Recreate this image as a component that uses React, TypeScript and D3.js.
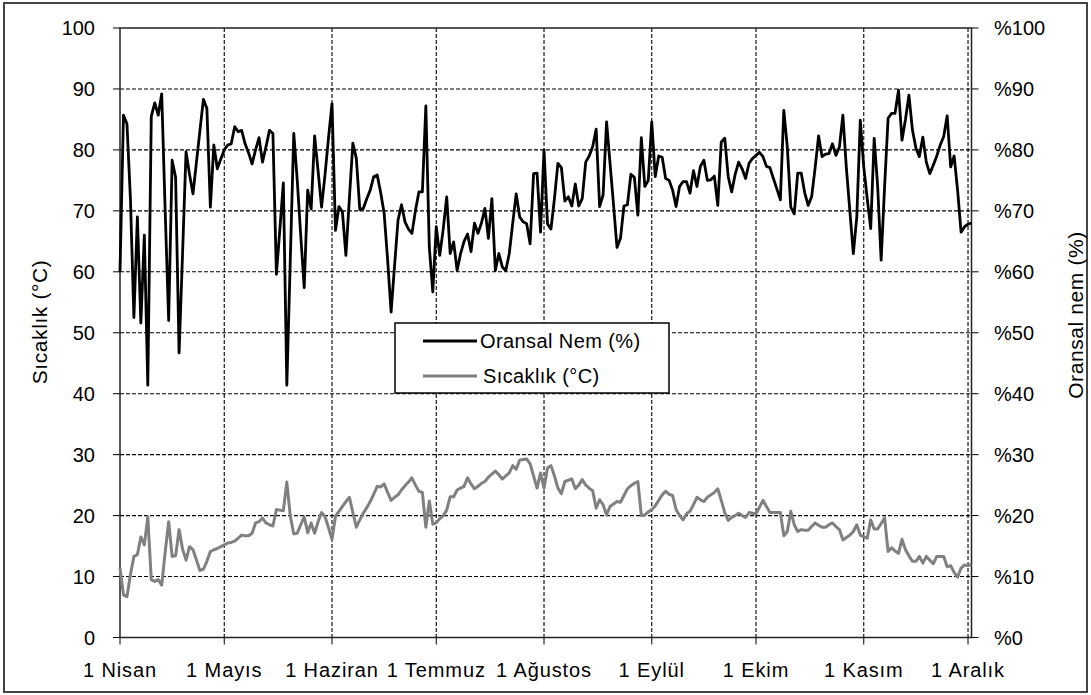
import React from "react";
import * as d3 from "d3";

// Daily relative humidity (%) from 1 Nisan to 2 Aralık
const humidity: number[] = [
  60, 85.7, 84.3, 72, 52.5, 69, 51.6, 66, 41.4, 85.5,
  87.7, 85.7, 89.2, 70, 52, 78.3, 75.5, 46.7, 63, 79.7,
  76, 72.8, 78, 83.2, 88.3, 86.8, 70.6, 80.8, 76.9, 78.5,
  80, 80.8, 81, 83.8, 83, 83.2, 81, 79.5, 77.7, 80,
  82, 78, 80.5, 83.2, 82.7, 59.6, 67, 74.6, 41.4, 62,
  82.7, 75, 66, 57.4, 73.4, 70.3, 82.3, 76.5, 70.6, 76,
  82, 87.6, 66.8, 70.7, 69.8, 62.7, 72, 81.1, 78.6, 70.2,
  70.4, 72, 73.4, 75.6, 75.9, 73, 69.6, 62, 53.4, 61,
  68.5, 71, 68.2, 67, 66.3, 70, 73.1, 73.1, 87.2, 64,
  56.7, 67.4, 62.7, 67, 72.3, 63, 64.9, 60.2, 63, 65,
  66.2, 63.3, 68, 66.3, 68, 70.4, 65.5, 72, 60.2, 63,
  60.8, 60.2, 63, 68, 72.8, 69, 68.2, 67.9, 64.6, 76.1,
  76.2, 66.5, 80, 67.9, 67, 72, 77.8, 77.1, 71.6, 72.3,
  70.8, 74.4, 70.8, 72, 78, 79, 80.5, 83.4, 70.7, 72.6,
  84.6, 77.8, 71, 64, 65.5, 70.8, 71, 76, 75.5, 69.3,
  82, 74, 75, 84.6, 75.6, 79, 78.8, 75.3, 75, 73.4,
  70.7, 74, 74.8, 74.8, 72.9, 76.6, 74, 77.3, 78.3, 75,
  75.1, 75.7, 70.9, 81.3, 81.9, 75.6, 73.1, 76, 78, 76.9,
  75.3, 77.8, 78.6, 79.1, 79.6, 78.9, 77.3, 77.1, 75.3, 73.6,
  71.8, 86.5, 80.5, 70.6, 69.5, 76.2, 76.2, 73, 70.9, 72.3,
  77, 82.3, 78.9, 79.3, 79.4, 81, 79.1, 80.5, 85.7, 77,
  70, 63, 69, 84.9, 77.2, 72, 67.1, 81.9, 74, 61.9,
  74, 85.2, 86, 86, 89.8, 81.6, 85, 89, 83.3, 80.3,
  78.9, 82.1, 78, 76.1, 77.5, 79, 80.8, 82.2, 85.6, 77.2,
  79, 73.4, 66.5, 67.4, 67.8, 68,
];

// Daily temperature (°C) over the same days
const temperature: number[] = [
  11.4, 7, 6.7, 10.3, 13.3, 13.6, 16.5, 15.2, 19.8, 9.5,
  9.2, 9.5, 8.6, 14, 19, 13.3, 13.4, 17.7, 14.5, 12.7,
  14.9, 14.4, 12.7, 11, 11.2, 12.5, 14.1, 14.4, 14.6, 14.9,
  15.2, 15.5, 15.6, 15.8, 16.3, 16.8, 16.7, 16.7, 17.1, 18.8,
  19, 19.6, 18.8, 18.5, 18.3, 21, 20.9, 20.8, 25.5, 19.9,
  17, 17.1, 18.5, 19.8, 17.2, 18.8, 17.1, 19, 20.5, 19.8,
  18, 16.1, 19.9, 20.7, 21.5, 22.3, 23, 20.5, 18.1, 19.3,
  20.4, 21.3, 22.3, 23.5, 24.8, 24.7, 25.2, 23.8, 22.5, 23,
  23.4, 24.2, 24.9, 25.5, 26.2, 25, 24, 23.8, 18.1, 22.4,
  18.6, 18.8, 19.5, 20, 20.9, 23.1, 23.1, 24.2, 24.5, 24.8,
  26.2, 25.2, 24.4, 24.8, 25.3, 25.6, 26.3, 26.8, 27.3, 26.7,
  26, 26.5, 27, 28.2, 27.6, 29.1, 29.2, 29.3, 28.5, 26.5,
  24.5, 27, 24.5, 27.8, 28.2, 26.5, 24.5, 23.6, 25.6, 25.8,
  26, 24.4, 25, 25.9, 25, 24.5, 24.1, 21.2, 22.6, 21.8,
  20.1, 21.5, 21.9, 22.3, 22.2, 23.3, 24.4, 24.9, 25.3, 25.6,
  20, 20.1, 20.6, 21, 21.6, 22.5, 23.4, 24, 23.5, 23.3,
  21, 20, 19.3, 20.3, 20.7, 21.8, 23, 22.6, 22.3, 23,
  23.4, 23.8, 24.4, 22.5, 20.5, 19.2, 19.7, 20, 20.4, 20,
  19.7, 20.5, 20.4, 20.3, 21.4, 22.5, 21.5, 20.5, 20.5, 20.5,
  20.5, 16.7, 17.4, 20.7, 18.5, 17.4, 17.7, 17.6, 17.6, 18.2,
  18.8, 18.4, 18.1, 18.1, 18.5, 18.8, 18.2, 17.7, 16, 16.4,
  16.8, 17.4, 18.5, 16.8, 16.5, 16.3, 19.3, 17.8, 17.8, 18.7,
  19.6, 14.1, 14.7, 14.2, 13.8, 16.1, 14.4, 13.4, 12.5, 12.5,
  13.3, 12.2, 13.3, 12.7, 12.1, 13.3, 13.3, 13.3, 11.6, 11.8,
  10.7, 9.9, 11.4, 11.9, 11.8, 12,
];

const monthLabels: string[] = [
  "1 Nisan", "1 Mayıs", "1 Haziran", "1 Temmuz", "1 Ağustos",
  "1 Eylül", "1 Ekim", "1 Kasım", "1 Aralık",
];
const yTicks: number[] = [0, 10, 20, 30, 40, 50, 60, 70, 80, 90, 100];
const seriesNames: string[] = ["Oransal Nem (%)", "Sıcaklık (°C)"];
const leftTitle = "Sıcaklık (°C)";
const rightTitle = "Oransal nem (%)";

const W = 1091;
const H = 695;
const FONT = "'Liberation Sans', Arial, sans-serif";

export default function App() {
  const start = new Date(2009, 3, 1);
  const end = d3.timeDay.offset(start, humidity.length - 1);
  const L = 120, R = 971.5, T = 28, B = 637.5;
  const x = d3.scaleTime().domain([start, end]).range([L, R]);
  const y = d3.scaleLinear().domain([0, 100]).range([B, T]);

  const monthTicks = d3.timeMonth.range(start, d3.timeDay.offset(end, 1));

  const line = d3
    .line<number>()
    .x((_, i) => x(d3.timeDay.offset(start, i)))
    .y((v) => y(v));

  const humPath = line(humidity) || "";
  const tempPath = line(temperature) || "";

  return (
    <svg
      width={W}
      height={H}
      style={{ position: "absolute", left: 0, top: 0, background: "#fff" }}
      fontFamily={FONT}
    >
      <rect x={0} y={0} width={W} height={H} fill="#fff" />
      <rect x={4} y={3} width={1083} height={689} fill="none" stroke="#444" strokeWidth={2} />

      {/* horizontal gridlines */}
      {yTicks.filter((t) => t > 0 && t < 100).map((t) => (
        <line key={"h" + t} x1={L} x2={R} y1={y(t)} y2={y(t)} stroke="#000" strokeWidth={1.1} strokeDasharray="4,2" />
      ))}
      {/* vertical gridlines */}
      {monthTicks.slice(1).map((d, i) => (
        <line key={"v" + i} x1={x(d)} x2={x(d)} y1={T} y2={B} stroke="#000" strokeWidth={1.1} strokeDasharray="4,2" />
      ))}

      {/* ticks */}
      {yTicks.map((t) => (
        <g key={"t" + t}>
          <line x1={L - 7} x2={L} y1={y(t)} y2={y(t)} stroke="#000" strokeWidth={1} />
          <line x1={R} x2={R + 7} y1={y(t)} y2={y(t)} stroke="#000" strokeWidth={1} />
        </g>
      ))}
      {monthTicks.map((d, i) => (
        <line key={"bt" + i} x1={x(d)} x2={x(d)} y1={B} y2={B + 7} stroke="#000" strokeWidth={1} />
      ))}

      {/* plot frame */}
      <rect x={L} y={T} width={R - L} height={B - T} fill="none" stroke="#222" strokeWidth={1.5} />

      {/* series */}
      <path d={tempPath} fill="none" stroke="#808080" strokeWidth={3} strokeLinejoin="round" />
      <path d={humPath} fill="none" stroke="#000" strokeWidth={2.8} strokeLinejoin="round" />

      {/* left tick labels */}
      {yTicks.map((t) => (
        <text key={"ly" + t} x={95} y={y(t)} dy="0.35em" textAnchor="end" fontSize={20} fill="#000">
          {t}
        </text>
      ))}
      {/* right tick labels */}
      {yTicks.map((t) => (
        <text key={"ry" + t} x={994} y={y(t)} dy="0.35em" textAnchor="start" fontSize={20} fill="#000">
          {"%" + t}
        </text>
      ))}
      {/* x labels */}
      {monthTicks.map((d, i) => (
        <text key={"xl" + i} x={x(d)} y={677} textAnchor="middle" fontSize={20} letterSpacing={0.9} fill="#000">
          {monthLabels[i]}
        </text>
      ))}

      {/* axis titles */}
      <text transform={`translate(47,322) rotate(-90)`} textAnchor="middle" fontSize={21} letterSpacing={0.6} fill="#000">
        {leftTitle}
      </text>
      <text transform={`translate(1083,315) rotate(-90)`} textAnchor="middle" fontSize={21} letterSpacing={0.6} fill="#000">
        {rightTitle}
      </text>

      {/* legend */}
      <rect x={395} y={323} width={274} height={70} fill="#fff" stroke="#000" strokeWidth={1.5} />
      <line x1={423} x2={477} y1={341} y2={341} stroke="#000" strokeWidth={2.8} />
      <text x={480} y={348} fontSize={20} letterSpacing={0.4} fill="#000">{seriesNames[0]}</text>
      <line x1={423} x2={477} y1={376} y2={376} stroke="#808080" strokeWidth={3} />
      <text x={483} y={383} fontSize={20} letterSpacing={0.4} fill="#000">{seriesNames[1]}</text>
    </svg>
  );
}
